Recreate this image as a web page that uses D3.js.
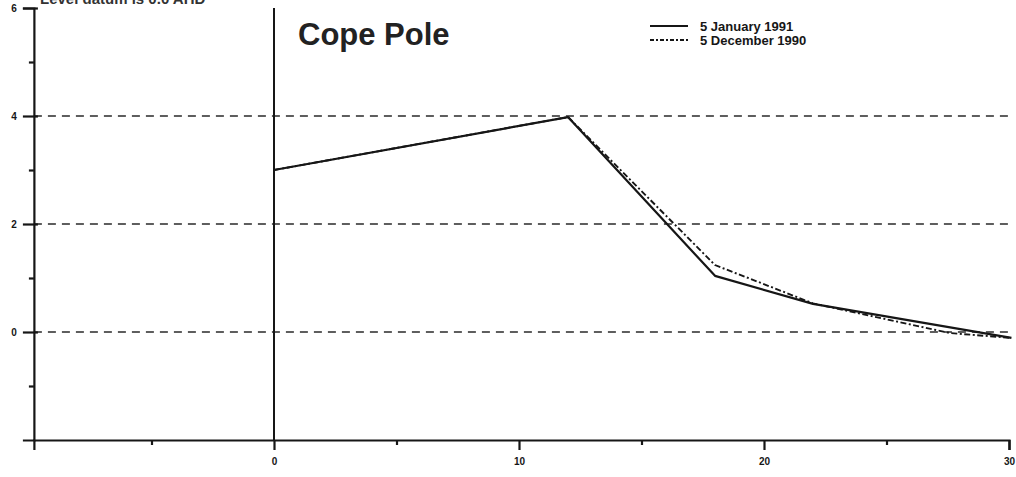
<!DOCTYPE html>
<html>
<head>
<meta charset="utf-8">
<script src="https://cdn.jsdelivr.net/npm/d3@7"></script>
<style>
  html, body { margin: 0; padding: 0; background: #fff; }
  svg { display: block; font-family: "Liberation Sans", Arial, sans-serif; }
</style>
</head>
<body>
<svg id="chart" width="1016" height="477"></svg>
<script>
// Water level profile along the pole transect (distance vs level)
const seriesNames = ["5 January 1991", "5 December 1990"];
const janDist  = [0, 12, 18, 22, 30.1];
const janLevel = [3.0, 3.98, 1.04, 0.52, -0.11];
const decDist  = [0, 12, 18, 22, 27.6, 30.1];
const decLevel = [3.0, 3.98, 1.24, 0.53, -0.02, -0.11];

const xMajorTicks = [0, 10, 20, 30];
const xMinorTicks = [-5, 5, 15, 25];
const yMajorTicks = [0, 2, 4, 6];
const yMinorTicks = [-1, 1, 3, 5];
const gridLevels  = [0, 2, 4];
const titleText = "Cope Pole";
const datumText = "Level datum is 0.0 AHD";

const svg = d3.select("#chart");
const ink = "#161616";

const x = d3.scaleLinear().domain([-9.8, 30]).range([33.9, 1009]);
const y = d3.scaleLinear().domain([-2, 6]).range([440, 8]);

// dashed reference levels
svg.append("g").selectAll("line").data(gridLevels).join("line")
  .attr("x1", x(-9.8)).attr("x2", 1012)
  .attr("y1", d => y(d)).attr("y2", d => y(d))
  .attr("stroke", "#2a2a2a").attr("stroke-width", 1.6)
  .attr("stroke-dasharray", "8,6");

// left axis
const yAxisMajor = d3.axisLeft(y).tickValues(yMajorTicks).tickSize(11).tickPadding(6).tickFormat(d3.format("d"));
const yAxisMinor = d3.axisLeft(y).tickValues(yMinorTicks).tickSize(5).tickFormat("");
const gyMaj = svg.append("g").attr("transform", `translate(${x(-9.8)},0)`).call(yAxisMajor);
const gyMin = svg.append("g").attr("transform", `translate(${x(-9.8)},0)`).call(yAxisMinor);

// bottom axis
const xAxisMajor = d3.axisBottom(x).tickValues(xMajorTicks).tickSize(10).tickPadding(8).tickFormat(d3.format("d"));
const xAxisMinor = d3.axisBottom(x).tickValues(xMinorTicks).tickSize(5).tickFormat("");
const gxMaj = svg.append("g").attr("transform", `translate(0,${y(-2)})`).call(xAxisMajor);
const gxMin = svg.append("g").attr("transform", `translate(0,${y(-2)})`).call(xAxisMinor);

[gyMaj, gyMin, gxMaj, gxMin].forEach(g => {
  g.select(".domain").attr("stroke", ink).attr("stroke-width", 2.2);
  g.selectAll(".tick line").attr("stroke", ink).attr("stroke-width", 2.2);
  g.selectAll(".tick text").attr("fill", ink)
    .style("font-size", "10px").style("font-weight", "bold")
    .style("font-family", "'Liberation Sans', Arial, sans-serif");
});
gxMin.select(".domain").remove();
gyMin.select(".domain").remove();
// major left ticks poke slightly through the axis
gyMaj.selectAll(".tick line").attr("x2", 4).attr("x1", -11);

// vertical line at distance zero
svg.append("line")
  .attr("x1", x(0)).attr("x2", x(0))
  .attr("y1", y(6)).attr("y2", y(-2))
  .attr("stroke", ink).attr("stroke-width", 2);

// profiles
const line = d3.line().x(d => x(d[0])).y(d => y(d[1]));
const decPts = decDist.map((d, i) => [d, decLevel[i]]);
const janPts = janDist.map((d, i) => [d, janLevel[i]]);

svg.append("path").datum(decPts).attr("d", line)
  .attr("fill", "none").attr("stroke", ink).attr("stroke-width", 1.9)
  .attr("stroke-dasharray", "6,2.5,2,2.5");
svg.append("path").datum(janPts).attr("d", line)
  .attr("fill", "none").attr("stroke", ink).attr("stroke-width", 2.2)
  .attr("stroke-linejoin", "round");

// title
svg.append("text").attr("x", 298).attr("y", 45)
  .attr("fill", "#222").style("font-size", "31px").style("font-weight", "bold")
  .text(titleText);

// datum note along the top edge
svg.append("text").attr("x", 40).attr("y", 4)
  .attr("fill", "#333").style("font-size", "15px").style("font-weight", "bold")
  .text(datumText);

// legend
const legend = svg.append("g");
const dashes = [null, "4,2,2,2"];
seriesNames.forEach((name, i) => {
  const ly = 26 + i * 14;
  legend.append("line").attr("x1", 650).attr("x2", 688).attr("y1", ly).attr("y2", ly)
    .attr("stroke", ink).attr("stroke-width", 1.8)
    .attr("stroke-dasharray", dashes[i]);
  legend.append("text").attr("x", 700).attr("y", ly + 4.5)
    .attr("fill", ink).style("font-size", "13px").style("font-weight", "bold")
    .text(name);
});
</script>
</body>
</html>
